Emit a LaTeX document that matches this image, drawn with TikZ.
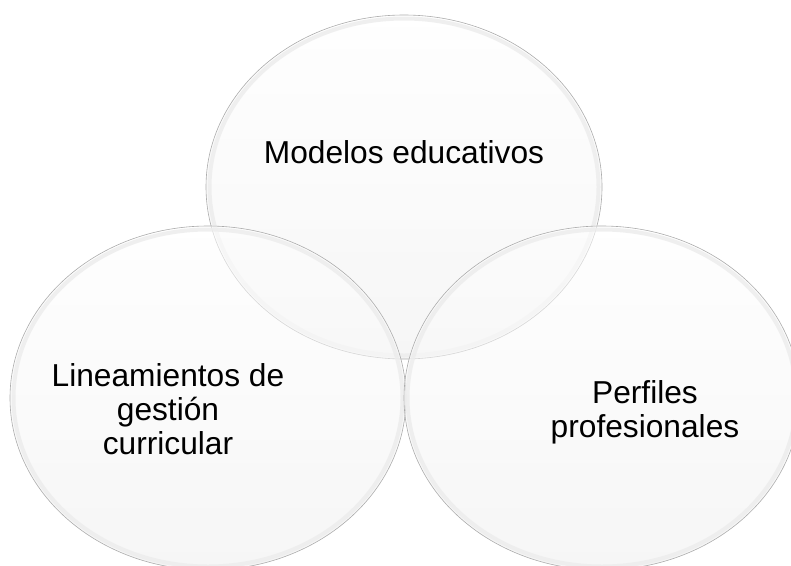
\documentclass[tikz,border=0pt]{standalone}
\usepackage{fontspec}
\setmainfont{Liberation Sans}
\usetikzlibrary{shapes.geometric}

\begin{document}
\begin{tikzpicture}[
        x=1pt, y=-1pt,
        bubble/.style={
            ellipse,
            minimum width=396pt,
            minimum height=344pt,
            inner sep=0pt,
            draw=gray!65,
            line width=0.6pt,
            top color=white,
            bottom color=gray!12,
            fill opacity=0.55
        },
        rim/.style={
            ellipse,
            minimum width=389pt,
            minimum height=337pt,
            inner sep=0pt,
            draw=gray!15,
            line width=4pt,
            draw opacity=0.8
        },
        label/.style={
            align=center,
            text=black,
            font=\fontsize{31.7}{34}\selectfont
        }
    ]
        \fill[white] (0,0) rectangle (791,565);
        \useasboundingbox (0,0) rectangle (791,565);
        \clip (0,0) rectangle (791,565);
        \node (modelos) [bubble] at (404,187) {};
        \node (modelosRim) [rim] at (modelos.center) {};
        \node (lineamientos) [bubble] at (208,398) {};
        \node (lineamientosRim) [rim] at (lineamientos.center) {};
        \node (perfiles) [bubble] at (602,398) {};
        \node (perfilesRim) [rim] at (perfiles.center) {};
        \node (modelosText) [label] at (404,152) {Modelos educativos};
        \node (lineamientosText) [label] at (168,409) {Lineamientos de\\gestión\\curricular};
        \node (perfilesText) [label] at (645,412) {Perfiles\\profesionales};
    \end{tikzpicture}
\end{document}
